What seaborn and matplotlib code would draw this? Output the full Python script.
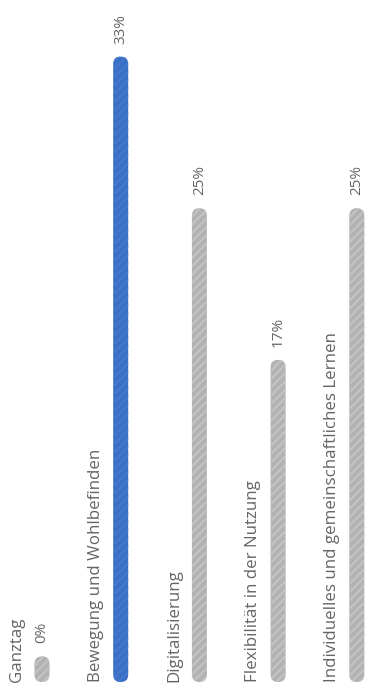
import matplotlib
matplotlib.use("Agg")
import matplotlib.pyplot as plt
from matplotlib.patches import FancyBboxPatch
import seaborn as sns
import pandas as pd

# data
categories = ["Ganztag", "Bewegung und Wohlbefinden", "Digitalisierung",
              "Flexibilität in der Nutzung",
              "Individuelles und gemeinschaftliches Lernen"]
values = [0, 33, 25, 17, 25]
highlight = "Bewegung und Wohlbefinden"

GREY = "#b2b2b2"
BLUE = "#3a6fc6"
TEXT = "#656565"

sns.set_theme(style="white")
plt.rcParams["font.family"] = ["Open Sans", "DejaVu Sans"]
plt.rcParams["hatch.linewidth"] = 1.4

W, H = 366, 692
fig = plt.figure(figsize=(W / 100, H / 100), dpi=100)
ax = fig.add_axes([0, 0, 1, 1])

df = pd.DataFrame({"cat": categories, "val": values})
# zero values still get a small stub, like the original
min_len = 1.35
df["shown"] = df["val"].clip(lower=min_len)
palette = {c: (BLUE if c == highlight else GREY) for c in categories}

sns.barplot(data=df, x="cat", y="shown", hue="cat", palette=palette,
            order=categories, width=0.19, legend=False, ax=ax,
            saturation=1)

px_x = 78.7   # pixels per category step
px_y = 18.95  # pixels per percent
x0, y0 = 42, 10
ax.set_xlim(-x0 / px_x, (W - x0) / px_x)
ax.set_ylim(-y0 / px_y, (H - y0) / px_y)

# rounded caps: swap rectangles for rounded boxes
r = 7.3 / px_x
aspect = px_x / px_y
for p in list(ax.patches):
    x, y = p.get_x(), p.get_y()
    w, h = p.get_width(), p.get_height()
    fc = p.get_facecolor()
    p.remove()
    stripe = "#4678cc" if fc[2] > fc[0] + 0.2 else "#c4c4c4"
    style = f"round,pad=0,rounding_size={r}"
    ax.add_patch(FancyBboxPatch((x, y), w, h, boxstyle=style,
                                mutation_aspect=aspect, facecolor=fc,
                                edgecolor="none", linewidth=0))
    ax.add_patch(FancyBboxPatch((x, y), w, h, boxstyle=style,
                                mutation_aspect=aspect, facecolor="none",
                                edgecolor=stripe, hatch="////", linewidth=0))

for i, (c, v, s) in enumerate(zip(categories, values, df["shown"])):
    ax.text(i - 25 / px_x, 0, c, rotation=90, ha="center", va="bottom",
            fontsize=12.2, color=TEXT)
    ax.text(i, s + 13 / px_y, f"{v}%", rotation=90, ha="center",
            va="bottom", fontsize=11, color=TEXT)

ax.set_axis_off()
fig.savefig("out.png", dpi=100)
